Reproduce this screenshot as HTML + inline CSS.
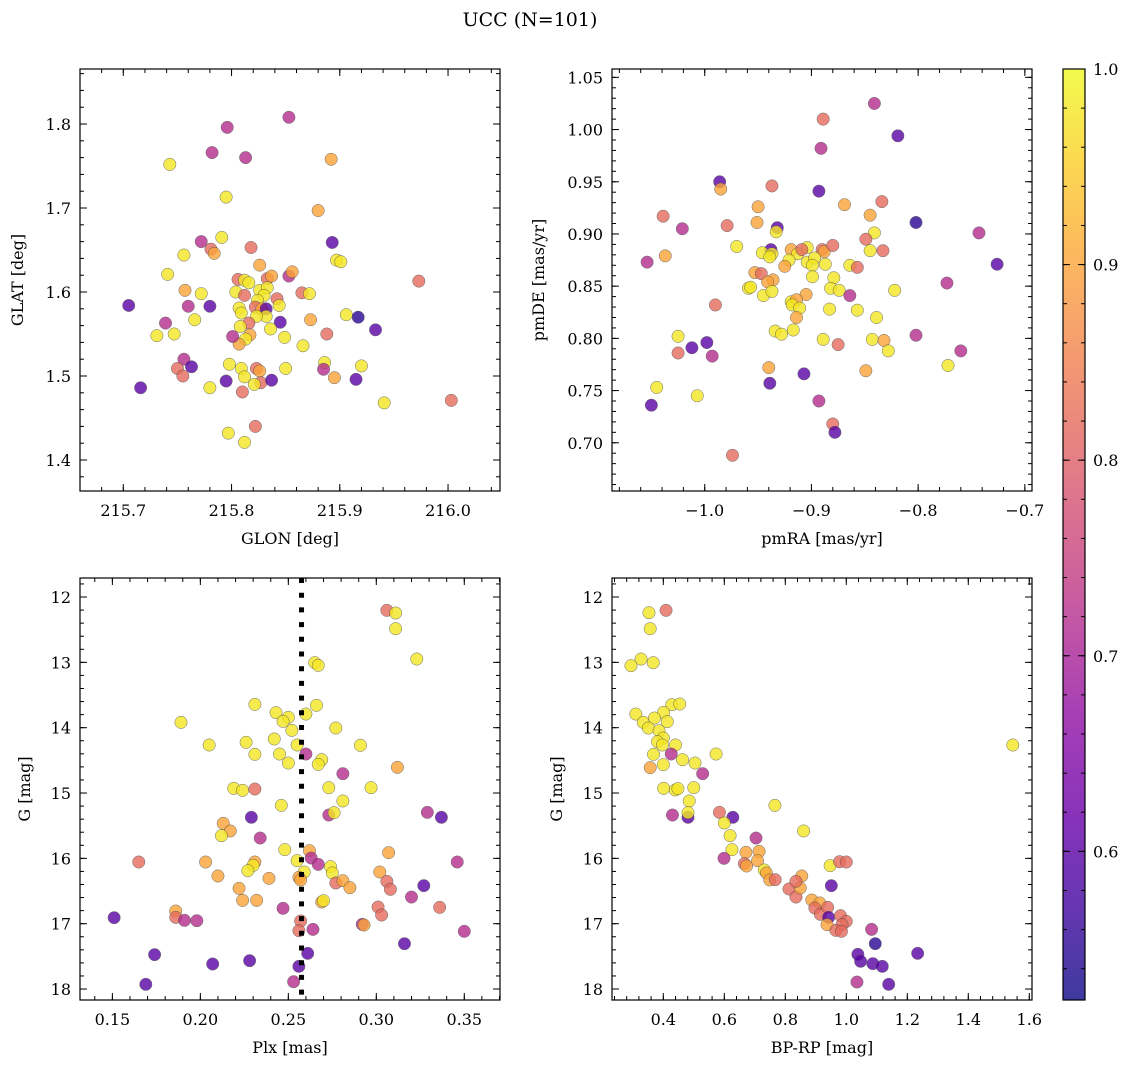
<!DOCTYPE html>
<html><head><meta charset="utf-8"><title>UCC (N=101)</title>
<style>
html,body{margin:0;padding:0;background:#fff;}
svg{display:block;font-family:"DejaVu Serif","Liberation Serif",serif;}
</style></head>
<body>
<svg id="fig" width="1136" height="1068" viewBox="0 0 1136 1068" xmlns="http://www.w3.org/2000/svg">
<rect x="0" y="0" width="1136" height="1068" fill="#fff"/>
<text x="530" y="26" text-anchor="middle" font-size="19">UCC (N=101)</text>
</svg>
<script>
// ---- Panel 1: GLON vs GLAT ----
const GLON1=[215.853,215.796,215.782,215.813,215.892,215.743,215.795,215.880,215.791,215.772,
215.781,215.784,215.818,215.893,215.756,215.897,215.901,215.826,215.741,215.806,
215.812,215.816,215.833,215.837,215.853,215.856,215.973,215.757,215.772,215.804,
215.812,215.826,215.833,215.830,215.824,215.842,215.844,215.865,215.872,215.705,
215.760,215.780,215.807,215.809,215.822,215.828,215.832,215.832,215.823,215.816,
215.845,215.873,215.906,215.917,215.933,215.739,215.766,215.731,215.747,215.808,
215.817,215.813,215.807,215.801,215.836,215.849,215.866,215.888,215.756,215.763,
215.750,215.755,215.798,215.809,215.823,215.826,215.812,215.827,215.821,215.837,
215.850,215.886,215.885,215.895,215.920,215.915,215.716,215.780,215.795,215.810,
215.941,216.003,215.822,215.797,215.812];
const GLAT1=[1.808,1.796,1.766,1.760,1.758,1.752,1.713,1.697,1.665,1.660,
1.651,1.646,1.653,1.659,1.644,1.638,1.636,1.632,1.621,1.615,
1.614,1.611,1.616,1.619,1.619,1.624,1.613,1.602,1.598,1.600,
1.596,1.602,1.605,1.596,1.590,1.592,1.584,1.599,1.598,1.584,
1.583,1.583,1.581,1.575,1.582,1.580,1.580,1.571,1.571,1.563,
1.564,1.567,1.573,1.570,1.555,1.563,1.567,1.548,1.550,1.559,
1.549,1.544,1.538,1.547,1.556,1.546,1.536,1.550,1.520,1.511,
1.509,1.500,1.514,1.509,1.509,1.506,1.499,1.492,1.490,1.495,
1.509,1.516,1.508,1.498,1.512,1.496,1.486,1.486,1.494,1.481,
1.468,1.471,1.440,1.432,1.421];
const PROB1=[.72,.72,.72,.72,.9,.98,.98,.9,.98,.72,
.82,.9,.82,.6,.98,.98,.98,.9,.98,.82,
.98,.98,.82,.9,.72,.9,.82,.9,.98,.98,
.82,.98,.98,.98,.98,.82,.98,.82,.98,.6,
.72,.6,.98,.98,.82,.9,.6,.98,.98,.82,
.6,.9,.98,.55,.6,.72,.98,.98,.98,.98,
.9,.98,.9,.72,.98,.98,.98,.82,.72,.6,
.82,.82,.98,.98,.82,.9,.98,.82,.98,.6,
.98,.98,.72,.9,.98,.6,.6,.98,.6,.82,
.98,.82,.82,.98,.98];
// ---- Panel 2: pmRA vs pmDE ----
const PMRA2=[-0.841,-0.889,-0.819,-0.891,-0.986,-0.985,-0.937,-0.893,-0.869,-0.834,
-0.950,-0.845,-1.039,-1.021,-0.979,-0.951,-0.932,-0.933,-0.802,-0.841,
-0.849,-0.743,-0.970,-0.938,-0.946,-0.937,-0.939,-0.919,-0.913,-0.904,
-0.909,-0.890,-0.888,-0.880,-0.845,-0.833,-1.054,-1.037,-0.921,-0.925,
-0.904,-0.897,-0.899,-0.887,-0.864,-0.857,-0.726,-0.953,-0.947,-0.936,
-0.941,-0.899,-0.879,-0.959,-0.957,-0.945,-0.937,-0.882,-0.874,-0.864,
-0.822,-0.773,-0.905,-0.919,-0.914,-0.918,-0.911,-0.914,-0.883,-0.857,
-0.839,-0.990,-0.934,-0.928,-0.917,-0.889,-0.875,-0.843,-0.832,-0.828,
-0.802,-0.760,-1.025,-1.012,-0.998,-1.025,-0.993,-0.940,-0.907,-0.939,
-0.849,-0.772,-1.045,-1.007,-1.050,-0.893,-0.880,-0.878,-0.974];
const PMDE2=[1.025,1.010,0.994,0.982,0.950,0.943,0.946,0.941,0.928,0.931,
0.926,0.918,0.917,0.905,0.908,0.911,0.906,0.902,0.911,0.901,
0.895,0.901,0.888,0.885,0.882,0.881,0.878,0.885,0.881,0.887,
0.885,0.885,0.883,0.889,0.884,0.884,0.873,0.879,0.875,0.869,
0.873,0.877,0.870,0.871,0.870,0.868,0.871,0.863,0.862,0.856,
0.854,0.859,0.858,0.848,0.849,0.841,0.845,0.848,0.846,0.841,
0.846,0.853,0.842,0.835,0.837,0.832,0.829,0.820,0.828,0.827,
0.820,0.832,0.807,0.804,0.808,0.799,0.794,0.799,0.798,0.788,
0.803,0.788,0.802,0.791,0.796,0.786,0.783,0.772,0.766,0.757,
0.769,0.774,0.753,0.745,0.736,0.740,0.718,0.710,0.688];
const PROB2=[.72,.82,.6,.72,.6,.9,.82,.6,.9,.82,
.9,.9,.82,.72,.82,.9,.6,.98,.55,.98,
.82,.72,.98,.6,.98,.98,.98,.9,.98,.98,
.82,.82,.9,.82,.98,.82,.72,.9,.98,.9,
.98,.98,.98,.98,.98,.82,.6,.9,.82,.9,
.9,.98,.98,.98,.98,.98,.98,.98,.98,.72,
.98,.72,.9,.98,.9,.98,.98,.9,.98,.98,
.98,.82,.98,.98,.98,.98,.82,.98,.9,.98,
.72,.72,.98,.6,.6,.82,.72,.9,.6,.6,
.9,.98,.98,.98,.6,.72,.82,.6,.82];
// ---- Panel 3: Plx vs G ----
const PLX3=[0.306,0.311,0.311,0.323,0.265,0.267,0.231,0.266,0.243,0.250,
0.247,0.260,0.189,0.252,0.277,0.242,0.226,0.255,0.205,0.291,
0.231,0.245,0.260,0.269,0.267,0.250,0.312,0.281,0.219,0.224,
0.231,0.273,0.297,0.246,0.281,0.229,0.273,0.276,0.329,0.337,
0.213,0.217,0.212,0.234,0.248,0.262,0.307,0.165,0.203,0.231,
0.230,0.255,0.263,0.267,0.274,0.346,0.227,0.259,0.275,0.302,
0.210,0.239,0.256,0.257,0.277,0.281,0.285,0.306,0.308,0.327,
0.222,0.224,0.232,0.269,0.270,0.320,0.247,0.301,0.336,0.186,
0.186,0.191,0.198,0.151,0.257,0.256,0.292,0.293,0.264,0.303,
0.350,0.316,0.261,0.174,0.207,0.228,0.256,0.169,0.253];
const GMAG3=[12.204,12.245,12.485,12.949,13.005,13.046,13.643,13.658,13.770,13.842,
13.903,13.791,13.918,14.041,14.005,14.173,14.224,14.265,14.265,14.270,
14.408,14.403,14.403,14.490,14.561,14.541,14.607,14.704,14.928,14.959,
14.939,14.918,14.918,15.189,15.122,15.372,15.337,15.301,15.296,15.372,
15.464,15.581,15.653,15.689,15.867,15.882,15.913,16.056,16.056,16.056,
16.107,16.035,15.995,16.092,16.127,16.056,16.189,16.209,16.224,16.209,
16.270,16.306,16.291,16.331,16.377,16.342,16.449,16.352,16.474,16.418,
16.459,16.643,16.643,16.668,16.648,16.592,16.765,16.745,16.750,16.806,
16.903,16.949,16.954,16.908,16.959,17.107,17.010,17.020,17.087,16.867,
17.117,17.306,17.454,17.474,17.617,17.566,17.653,17.928,17.888];
const PROB3=[.82,.98,.98,.98,.98,.98,.98,.98,.98,.98,
.98,.98,.98,.98,.98,.98,.98,.98,.98,.98,
.98,.98,.72,.98,.98,.98,.9,.72,.98,.98,
.82,.98,.98,.98,.98,.6,.72,.98,.72,.6,
.9,.9,.98,.72,.98,.9,.9,.82,.9,.9,
.98,.98,.72,.72,.98,.72,.98,.98,.98,.9,
.9,.9,.9,.9,.82,.9,.9,.82,.82,.6,
.9,.9,.9,.9,.98,.72,.72,.82,.82,.9,
.82,.72,.72,.6,.82,.82,.72,.9,.72,.82,
.72,.6,.6,.6,.6,.6,.6,.6,.72];
const PLX_REF=[0.2575];
// ---- Panel 4: BP-RP vs G ----
const BPRP4=[0.353,0.409,0.357,0.294,0.327,0.367,0.428,0.454,0.310,0.401,
0.371,0.334,0.413,0.351,0.386,0.400,0.381,0.397,0.440,0.368,
0.426,0.573,0.463,0.504,0.400,0.357,0.529,0.401,0.439,0.448,
0.500,0.485,0.766,0.430,0.481,0.481,0.584,0.628,0.600,0.619,
0.860,0.704,0.625,0.671,0.714,0.599,0.666,0.673,0.709,0.731,
0.738,0.749,0.767,0.947,0.978,1.000,0.951,0.854,0.812,0.835,
0.849,0.835,0.887,0.913,0.897,0.915,0.939,0.942,0.937,0.981,
1.000,0.986,0.966,0.984,1.083,1.095,1.038,1.047,1.087,1.118,
1.234,1.035,1.139,1.546];
const GMAG4=[12.240,12.204,12.485,13.051,12.949,13.005,13.648,13.638,13.791,13.765,
13.852,13.918,13.908,14.005,14.046,14.158,14.214,14.265,14.265,14.408,
14.403,14.403,14.490,14.541,14.566,14.612,14.704,14.928,14.954,14.933,
14.918,15.122,15.189,15.337,15.372,15.301,15.296,15.372,15.459,15.653,
15.581,15.689,15.867,15.908,15.893,16.000,16.081,16.117,16.035,16.178,
16.224,16.331,16.326,16.112,16.051,16.056,16.418,16.270,16.469,16.592,
16.454,16.352,16.638,16.683,16.760,16.857,16.750,16.903,17.015,16.877,
16.964,17.015,17.102,17.117,17.087,17.306,17.469,17.576,17.612,17.653,
17.454,17.893,17.928,14.265];
const PROB4=[.98,.82,.98,.98,.98,.98,.98,.98,.98,.98,
.98,.98,.98,.98,.98,.98,.98,.98,.98,.98,
.72,.98,.98,.98,.98,.9,.72,.98,.98,.98,
.98,.98,.98,.72,.6,.98,.82,.6,.98,.98,
.98,.72,.98,.9,.9,.72,.82,.9,.9,.98,
.9,.9,.82,.98,.82,.82,.6,.9,.82,.82,
.9,.82,.9,.9,.82,.82,.82,.6,.9,.82,
.82,.82,.82,.82,.72,.55,.6,.6,.6,.6,
.6,.72,.6,.98];
// ---- Tick values ----
const XT1=[215.7,215.8,215.9,216.0], XT1_LAB=["215.7","215.8","215.9","216.0"];
const YT1=[1.4,1.5,1.6,1.7,1.8], YT1_LAB=["1.4","1.5","1.6","1.7","1.8"];
const XT2=[-1.0,-0.9,-0.8,-0.7], XT2_LAB=["\u22121.0","\u22120.9","\u22120.8","\u22120.7"];
const YT2=[0.70,0.75,0.80,0.85,0.90,0.95,1.00,1.05], YT2_LAB=["0.70","0.75","0.80","0.85","0.90","0.95","1.00","1.05"];
const XT3=[0.15,0.20,0.25,0.30,0.35], XT3_LAB=["0.15","0.20","0.25","0.30","0.35"];
const YT34=[12,13,14,15,16,17,18], YT34_LAB=["12","13","14","15","16","17","18"];
const XT4=[0.4,0.6,0.8,1.0,1.2,1.4,1.6], XT4_LAB=["0.4","0.6","0.8","1.0","1.2","1.4","1.6"];
const CB_TICKS=[0.6,0.7,0.8,0.9,1.0], CB_LAB=["0.6","0.7","0.8","0.9","1.0"];
const CB_RANGE=[0.524,1.0];

const NS="http://www.w3.org/2000/svg";
const svg=document.getElementById('fig');
function mk(tag,attrs,parent){const e=document.createElementNS(NS,tag);for(const k in attrs)e.setAttribute(k,attrs[k]);(parent||svg).appendChild(e);return e;}
const PL=[[13,8,135],[65,4,157],[106,0,168],[143,13,164],[177,42,144],[204,71,120],[225,100,98],[242,132,75],[252,166,54],[252,206,37],[240,249,33]];
function plasma(t){t=Math.max(0,Math.min(1,t));const f=t*10,i=Math.min(9,Math.floor(f)),r=f-i;const a=PL[i],b=PL[i+1];return 'rgb('+[0,1,2].map(k=>Math.round(a[k]+(b[k]-a[k])*r)).join(',')+')';}
function pcol(p){return plasma((p-CB_RANGE[0])/(CB_RANGE[1]-CB_RANGE[0]));}

function panel(o){
  const g=mk('g',{});
  
  
  const sx=v=>o.L+(v-o.xr[0])/(o.xr[1]-o.xr[0])*o.W;
  const sy=v=>o.T+(o.yr[1]-v)/(o.yr[1]-o.yr[0])*o.H;
  const syInv=v=>o.T+(v-o.yr[0])/(o.yr[1]-o.yr[0])*o.H;
  const Y=o.invert?syInv:sy;
  const clip=mk('clipPath',{id:'c'+o.name},g);mk('rect',{x:o.L,y:o.T,width:o.W,height:o.H},clip);
  const pts=mk('g',{'clip-path':'url(#c'+o.name+')'},g);
  
  
  for(let i=0;i<Math.min(o.xs.length,o.ys.length,o.ps.length);i++){
    const c=mk('circle',{cx:sx(o.xs[i]),cy:Y(o.ys[i]),r:6.2,fill:pcol(o.ps[i]),stroke:'#444','stroke-width':0.5,opacity:0.8},pts);
    
    
  }
  if(o.vline){for(const v of o.vline){const l=mk('line',{x1:sx(v),x2:sx(v),y1:o.T,y2:o.T+o.H,stroke:'#000','stroke-width':5,'stroke-dasharray':'5 9.7'},pts);
    
    }}
  const ax=mk('g',{stroke:'#000','stroke-width':1},g);
  
  
  const minorX=[],minorY=[];
  for(let k=Math.ceil(o.xr[0]/o.xm-1e-6);k*o.xm<=o.xr[1]+1e-9;k++)minorX.push(k*o.xm);
  for(let k=Math.ceil(o.yr[0]/o.ym-1e-6);k*o.ym<=o.yr[1]+1e-9;k++)minorY.push(k*o.ym);
  const B=o.T+o.H,R=o.L+o.W;
  minorX.forEach(v=>{const x=sx(v);mk('line',{x1:x,x2:x,y1:B,y2:B-4},ax);mk('line',{x1:x,x2:x,y1:o.T,y2:o.T+4},ax);});
  minorY.forEach(v=>{const y=Y(v);mk('line',{x1:o.L,x2:o.L+4,y1:y,y2:y},ax);mk('line',{x1:R,x2:R-4,y1:y,y2:y},ax);});
  o.xt.forEach((v,i)=>{const x=sx(v);mk('line',{x1:x,x2:x,y1:B,y2:B-7},ax);mk('line',{x1:x,x2:x,y1:o.T,y2:o.T+7},ax);
    const t=mk('text',{x:x,y:B+25,'text-anchor':'middle','font-size':16},g);t.textContent=o.xl[i];
    
    });
  o.yt.forEach((v,i)=>{const y=Y(v);mk('line',{x1:o.L,x2:o.L+7,y1:y,y2:y},ax);mk('line',{x1:R,x2:R-7,y1:y,y2:y},ax);
    const t=mk('text',{x:o.L-9,y:y+6,'text-anchor':'end','font-size':16},g);t.textContent=o.yl[i];
    
    });
  const fr=mk('rect',{x:o.L,y:o.T,width:o.W,height:o.H,fill:'none',stroke:'#000','stroke-width':1.2},g);
  
  
  const xt=mk('text',{x:o.L+o.W/2,y:B+53,'text-anchor':'middle','font-size':16},g);xt.textContent=o.xlabel;
  
  
  const cy=o.T+o.H/2;
  const yt=mk('text',{x:o.ylx,y:cy,'text-anchor':'middle','font-size':16,transform:'rotate(-90 '+o.ylx+' '+cy+')'},g);yt.textContent=o.ylabel;
  
  
}
panel({name:'position-panel',L:80,T:69,W:420,H:422,xr:[215.660,216.048],yr:[1.3631,1.8655],xs:GLON1,ys:GLAT1,ps:PROB1,xt:XT1,xl:XT1_LAB,yt:YT1,yl:YT1_LAB,xm:0.02,ym:0.02,xlabel:'GLON [deg]',ylabel:'GLAT [deg]',ylx:23});
panel({name:'proper-motion-panel',L:612,T:69,W:420,H:422,xr:[-1.0869,-0.6933],yr:[0.6538,1.058],xs:PMRA2,ys:PMDE2,ps:PROB2,xt:XT2,xl:XT2_LAB,yt:YT2,yl:YT2_LAB,xm:0.02,ym:0.01,xlabel:'pmRA [mas/yr]',ylabel:'pmDE [mas/yr]',ylx:544});
panel({name:'parallax-panel',L:80,T:578,W:420,H:422,xr:[0.1316,0.3703],yr:[11.709,18.168],invert:true,xs:PLX3,ys:GMAG3,ps:PROB3,vline:PLX_REF,xt:XT3,xl:XT3_LAB,yt:YT34,yl:YT34_LAB,xm:0.01,ym:0.2,xlabel:'Plx [mas]',ylabel:'G [mag]',ylx:30});
panel({name:'cmd-panel',L:612,T:578,W:420,H:422,xr:[0.2318,1.6089],yr:[11.709,18.168],invert:true,xs:BPRP4,ys:GMAG4,ps:PROB4,xt:XT4,xl:XT4_LAB,yt:YT34,yl:YT34_LAB,xm:0.04,ym:0.2,xlabel:'BP-RP [mag]',ylabel:'G [mag]',ylx:562});

// ---- Colorbar ----
(function(){
  const L=1063,T=69,W=22,H=931;
  const g=mk('g',{});
  
  
  const sy=v=>T+(CB_RANGE[1]-v)/(CB_RANGE[1]-CB_RANGE[0])*H;
  const defs=mk('defs',{},g);
  const lg=mk('linearGradient',{id:'cbgrad',x1:0,y1:1,x2:0,y2:0},defs);
  for(let i=0;i<=20;i++){mk('stop',{offset:(i/20),'stop-color':plasma(i/20)},lg);}
  mk('rect',{x:L,y:T,width:W,height:H,fill:'url(#cbgrad)',opacity:0.8},g);
  mk('rect',{x:L,y:T,width:W,height:H,fill:'none',stroke:'#000','stroke-width':1.2},g);
  for(let k=Math.ceil(CB_RANGE[0]/0.02-1e-6);k*0.02<=CB_RANGE[1]+1e-9;k++){const y=sy(k*0.02);mk('line',{x1:L+W,x2:L+W-4,y1:y,y2:y,stroke:'#000'},g);mk('line',{x1:L,x2:L+4,y1:y,y2:y,stroke:'#000'},g);}
  CB_TICKS.forEach((v,i)=>{const y=sy(v);mk('line',{x1:L+W,x2:L+W-7,y1:y,y2:y,stroke:'#000'},g);mk('line',{x1:L,x2:L+7,y1:y,y2:y,stroke:'#000'},g);
    const t=mk('text',{x:L+W+8,y:y+6,'font-size':16},g);t.textContent=CB_LAB[i];
    
    });
})();
</script>
</body></html>
